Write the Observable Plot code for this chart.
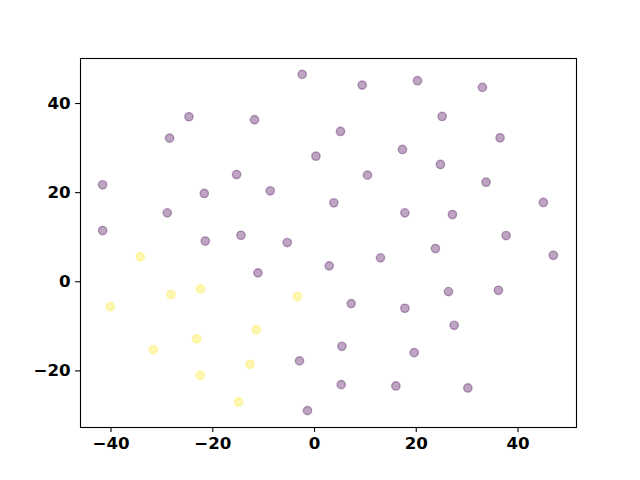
<!DOCTYPE html>
<html>
<head>
<meta charset="utf-8">
<script src="https://cdn.jsdelivr.net/npm/d3@7"></script>
<script src="https://cdn.jsdelivr.net/npm/@observablehq/plot@0.6"></script>
<style>
  html, body { margin: 0; padding: 0; background: #fff; }
  svg { display: block; }
  #chart svg text { font-family: 'DejaVu Sans', sans-serif !important; font-size: 16.67px !important; font-weight: 700 !important; fill: #000; }
</style>
</head>
<body>
<div id="chart"></div>
<script>
// Class 0 (purple) points
const class0X = [-2.42, 9.37, 20.24, 33.01, -24.68, -11.79, -28.49, 25.09, 5.11, 36.48,
  0.28, 17.29, 24.75, -15.32, -41.65, 10.41, 33.73, -21.67, -8.70, -28.94,
  3.81, 17.76, 27.11, 44.99, -41.65, -21.47, -14.46, -5.36, 37.66, 23.77,
  -11.12, 2.89, 12.97, 46.95, 26.33, 36.15, 7.21, 17.76, 27.45, 5.38,
  19.59, -2.95, 5.25, 15.99, 30.14, -1.38];
const class0Y = [46.53, 44.13, 45.12, 43.61, 37.03, 36.36, 32.23, 37.10, 33.73, 32.31,
  28.18, 29.69, 26.32, 24.07, 21.76, 23.92, 22.34, 19.81, 20.41, 15.47,
  17.72, 15.47, 15.09, 17.79, 11.50, 9.14, 10.44, 8.80, 10.37, 7.46,
  2.00, 3.57, 5.37, 5.95, -2.20, -1.91, -4.90, -5.95, -9.77, -14.48,
  -15.90, -17.76, -23.09, -23.38, -23.83, -28.92];
// Class 1 (yellow) points
const class1X = [-34.24, -28.21, -22.40, -40.14, -3.34, -11.45, -23.18, -31.69, -12.69, -22.46, -14.93];
const class1Y = [5.59, -2.87, -1.59, -5.57, -3.32, -10.80, -12.82, -15.23, -18.53, -21.00, -26.97];

const classes = [0, 1];
const classColors = ["#440154", "#fde725"];
const xTicks = [-40, -20, 0, 20, 40];
const yTicks = [-20, 0, 20, 40];

const data = [
  ...class0X.map((x, i) => ({x, y: class0Y[i], c: 0})),
  ...class1X.map((x, i) => ({x, y: class1Y[i], c: 1}))
];

const fmt = d => d < 0 ? "\u2212" + Math.abs(d) : String(d);

const chart = Plot.plot({
  width: 640,
  height: 480,
  marginLeft: 80,
  marginRight: 64,
  marginTop: 58,
  marginBottom: 53,
  style: {fontFamily: "'DejaVu Sans', sans-serif", fontSize: "16.67px", fontWeight: "bold", background: "#fff", color: "#000"},
  x: {domain: [-46.0, 51.5], ticks: xTicks, tickFormat: fmt, label: null},
  y: {domain: [-32.7, 50.1], ticks: yTicks, tickFormat: fmt, label: null},
  color: {type: "ordinal", domain: classes, range: classColors},
  marks: [
    Plot.dot(data, {x: "x", y: "y", r: 4.17, fill: "c", fillOpacity: 0.35, stroke: "c", strokeOpacity: 0.35, strokeWidth: 1.4}),
    Plot.frame({stroke: "#000", strokeWidth: 1.1}),
    Plot.axisX({ticks: xTicks, tickFormat: fmt, tickSize: 4.9, tickPadding: 4.9, fontSize: 16.67, fontWeight: "bold", label: null, strokeWidth: 1.1}),
    Plot.axisY({ticks: yTicks, tickFormat: fmt, tickSize: 4.9, tickPadding: 4.9, fontSize: 16.67, fontWeight: "bold", label: null, strokeWidth: 1.1})
  ]
});
document.getElementById("chart").appendChild(chart);
</script>
</body>
</html>
